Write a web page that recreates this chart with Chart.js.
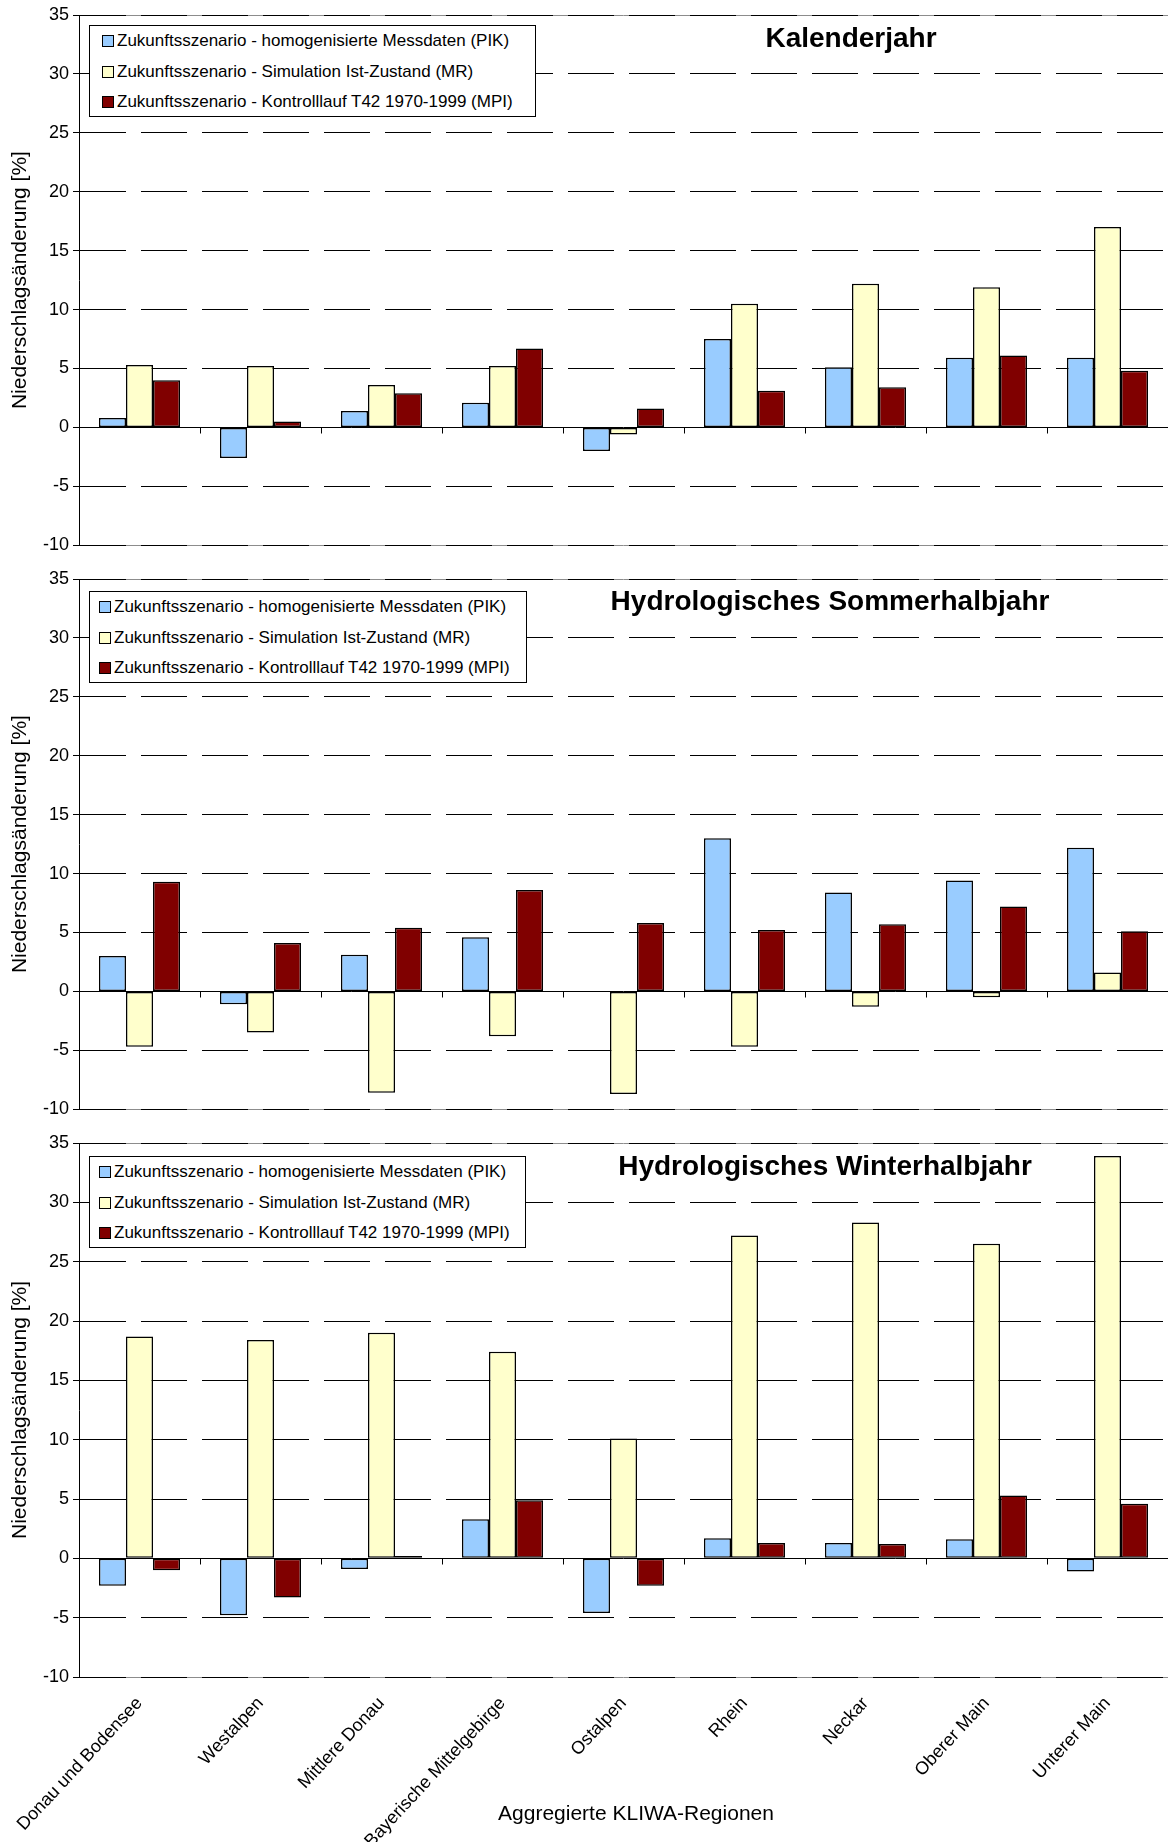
<!DOCTYPE html>
<html lang="de">
<head>
<meta charset="utf-8">
<title>Niederschlagsänderung – Aggregierte KLIWA-Regionen</title>
<script src="https://cdn.jsdelivr.net/npm/chart.js@4.4.1/dist/chart.umd.min.js"></script>
<style>
    html, body { margin: 0; padding: 0; background: #fff; }
    body {
        position: relative;
        width: 1168px;
        height: 1842px;
        overflow: hidden;
        font-family: Arial, "Liberation Sans", sans-serif;
        color: #000;
    }
    .panel { position: absolute; left: 0; width: 1168px; }
    #jahr { top: 0; height: 560px; }
    #sommer { top: 564px; height: 560px; }
    #winter { top: 1128px; height: 714px; }

    .legend {
        position: absolute;
        left: 89px;
        height: 92px;
        border: 1px solid #000;
        background: #fff;
        box-sizing: border-box;
        font-size: 17px;
    }
    .legend .row { height: 30.5px; line-height: 30.5px; white-space: nowrap; }
    .legend .sw {
        display: inline-block;
        width: 12px;
        height: 12px;
        box-sizing: border-box;
        border: 1px solid #000;
        margin-right: 3px;
        vertical-align: -1px;
    }
    #jahr .legend { top: 25px; width: 447px; padding-left: 12px; }
    #sommer .legend { top: 27px; width: 438px; padding-left: 9px; }
    #winter .legend { top: 28px; width: 437px; padding-left: 9px; }

    .title {
        position: absolute;
        transform: translate(-50%, -50%);
        font-weight: bold;
        font-size: 28px;
        white-space: nowrap;
    }
    #jahr .title { left: 851px; top: 38px; }
    #sommer .title { left: 830px; top: 37px; }
    #winter .title { left: 825px; top: 38px; }

    #xtitle {
        position: absolute;
        left: 636px;
        top: 1813px;
        transform: translate(-50%, -50%);
        font-size: 21px;
        white-space: nowrap;
    }
</style>
</head>
<body>

<div class="panel" id="jahr">
    <canvas id="jahr-chart"></canvas>
</div>
<div class="panel" id="sommer">
    <canvas id="sommer-chart"></canvas>
</div>
<div class="panel" id="winter">
    <canvas id="winter-chart"></canvas>
</div>
<div id="xtitle"></div>

<script>
// Regions (categories) and series names
const regions = ['Donau und Bodensee', 'Westalpen', 'Mittlere Donau', 'Bayerische Mittelgebirge',
    'Ostalpen', 'Rhein', 'Neckar', 'Oberer Main', 'Unterer Main'];
const seriesNames = [
    'Zukunftsszenario - homogenisierte Messdaten (PIK)',
    'Zukunftsszenario - Simulation Ist-Zustand (MR)',
    'Zukunftsszenario - Kontrolllauf T42 1970-1999 (MPI)'
];
const seriesColors = ['#99ccff', '#ffffcc', '#800000'];

// Kalenderjahr
const jahrPIK = [0.8, -2.6, 1.4, 2.1, -2.0, 7.5, 5.1, 5.9, 5.9];
const jahrMR  = [5.3, 5.2, 3.6, 5.2, -0.6, 10.5, 12.2, 11.9, 17.0];
const jahrMPI = [4.0, 0.5, 2.9, 6.7, 1.6, 3.1, 3.4, 6.1, 4.8];

// Hydrologisches Sommerhalbjahr
const sommerPIK = [3.0, -1.1, 3.1, 4.6, 0, 13.0, 8.4, 9.4, 12.2];
const sommerMR  = [-4.7, -3.5, -8.6, -3.8, -8.7, -4.7, -1.3, -0.5, 1.6];
const sommerMPI = [9.3, 4.1, 5.4, 8.6, 5.8, 5.2, 5.7, 7.2, 5.1];

// Hydrologisches Winterhalbjahr
const winterPIK = [-2.3, -4.8, -0.9, 3.3, -4.6, 1.7, 1.3, 1.6, -1.1];
const winterMR  = [18.7, 18.4, 19.0, 17.4, 10.1, 27.2, 28.3, 26.5, 33.9];
const winterMPI = [-1.0, -3.3, 0.2, 4.9, -2.3, 1.3, 1.2, 5.3, 4.6];

// Y axis range and step
const yMin = -10;
const yMax = 35;
const yStep = 5;

const yTitle = 'Niederschlagsänderung [%]';
const xTitle = 'Aggregierte KLIWA-Regionen';

const panels = [
    { id: 'jahr', title: 'Kalenderjahr', values: [jahrPIK, jahrMR, jahrMPI], showLabels: false },
    { id: 'sommer', title: 'Hydrologisches Sommerhalbjahr', values: [sommerPIK, sommerMR, sommerMPI], showLabels: false },
    { id: 'winter', title: 'Hydrologisches Winterhalbjahr', values: [winterPIK, winterMR, winterMPI], showLabels: true }
];

Chart.defaults.font.family = 'Arial, "Liberation Sans", sans-serif';
Chart.defaults.color = '#000';

// Excel-like extras: grey frame lines at top/bottom, zero axis with category tick marks
const excelAxisPlugin = {
    id: 'excelAxis',
    beforeDraw(chart) {
        const { ctx, chartArea, scales } = chart;
        const y = scales.y;
        ctx.save();
        ctx.strokeStyle = '#8c8c8c';
        ctx.lineWidth = 1;
        [yMin, yMax].forEach(v => {
            const py = Math.round(y.getPixelForValue(v)) + 0.5;
            ctx.beginPath();
            ctx.moveTo(chartArea.left, py);
            ctx.lineTo(chartArea.right, py);
            ctx.stroke();
        });
        ctx.restore();
    },
    beforeDatasetsDraw(chart) {
        const { ctx, chartArea, scales } = chart;
        const x = scales.x;
        const y = scales.y;
        const py = Math.round(y.getPixelForValue(0)) + 0.5;
        const half = (x.getPixelForValue(1) - x.getPixelForValue(0)) / 2;

        ctx.save();
        ctx.strokeStyle = '#000';
        ctx.lineWidth = 1;
        ctx.beginPath();
        ctx.moveTo(chartArea.left, py);
        ctx.lineTo(chartArea.right, py);
        // tick marks between the regions
        for (let i = 1; i < regions.length; i++) {
            const px = Math.round(x.getPixelForValue(i) - half) + 0.5;
            ctx.moveTo(px, py);
            ctx.lineTo(px, py + 6);
        }
        ctx.stroke();
        ctx.restore();
    }
};

// Build the legend boxes and titles as html
function buildLegend(panel) {
    const container = document.getElementById(panel.id);

    const legend = document.createElement('div');
    legend.className = 'legend';
    seriesNames.forEach((name, i) => {
        legend.innerHTML += `<div class="row"><span class="sw" style="background:${seriesColors[i]}"></span>${name}</div>`;
    });
    container.appendChild(legend);

    const title = document.createElement('div');
    title.className = 'title';
    title.textContent = panel.title;
    container.appendChild(title);
}

function createPanelChart(panel) {
    const ctx = document.getElementById(panel.id + '-chart');
    const xHeight = panel.showLabels ? 165 : 12;

    return new Chart(ctx, {
        type: 'bar',
        data: {
            labels: regions,
            datasets: panel.values.map((vals, i) => ({
                label: seriesNames[i],
                data: vals,
                backgroundColor: seriesColors[i],
                borderColor: '#000',
                borderWidth: 1.5,
                borderSkipped: false,
                categoryPercentage: 0.67,
                barPercentage: 1.0
            }))
        },
        options: {
            responsive: true,
            maintainAspectRatio: false,
            animation: false,
            layout: { padding: { top: 15, left: 0, right: 0, bottom: 0 } },
            plugins: {
                legend: { display: false },
                tooltip: { enabled: false },
                title: { display: false }
            },
            scales: {
                x: {
                    grid: { display: false },
                    border: { display: false },
                    ticks: {
                        display: panel.showLabels,
                        autoSkip: false,
                        minRotation: 47,
                        maxRotation: 47,
                        padding: 8,
                        color: '#000',
                        font: { size: 18 }
                    },
                    afterFit: scale => {
                        scale.height = xHeight;
                        scale.paddingLeft = 0;
                        scale.paddingRight = 0;
                    }
                },
                y: {
                    min: yMin,
                    max: yMax,
                    ticks: {
                        stepSize: yStep,
                        color: '#000',
                        padding: 4,
                        font: { size: 18 }
                    },
                    grid: {
                        color: c => (c.tick && c.tick.value === 0) ? 'rgba(0,0,0,0)' : '#000',
                        lineWidth: 1,
                        tickLength: 6,
                        tickColor: '#000'
                    },
                    border: { display: true, color: '#000', width: 1, dash: [46, 15], dashOffset: 0 },
                    title: {
                        display: true,
                        text: yTitle,
                        color: '#000',
                        font: { size: 21 },
                        padding: { top: 8, bottom: 0 }
                    },
                    afterFit: scale => {
                        scale.width = 79;
                    }
                }
            }
        },
        plugins: [excelAxisPlugin]
    });
}

panels.forEach(panel => {
    buildLegend(panel);
    createPanelChart(panel);
});

document.getElementById('xtitle').textContent = xTitle;
</script>
</body>
</html>
